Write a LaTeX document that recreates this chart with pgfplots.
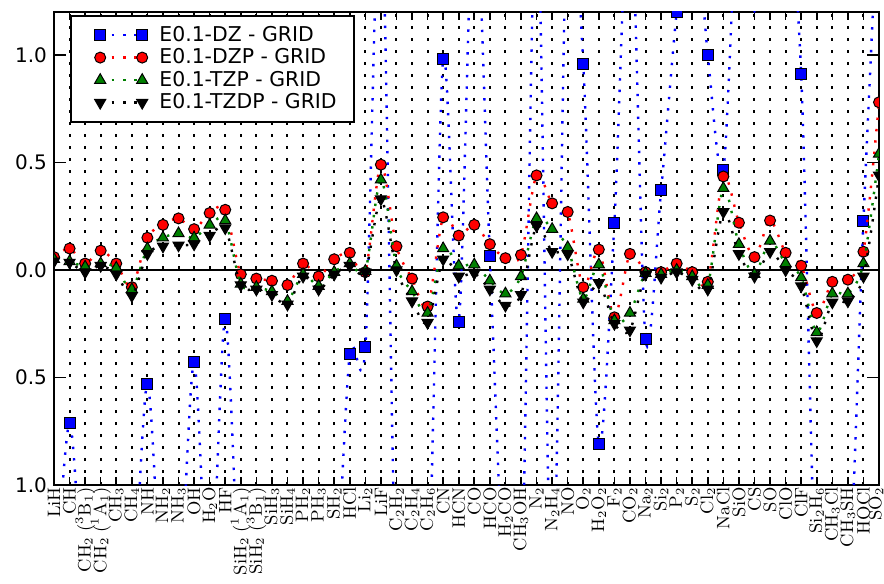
\documentclass[border=0pt]{standalone}
\usepackage{pgfplots}
\usepackage{pgfplotstable}
\pgfplotsset{compat=1.18}
\usepackage{fontspec}
\newfontfamily\djv{DejaVu Sans}
\definecolor{mgreen}{RGB}{0,128,0}

\pgfplotstableread{
x B R G K
0 -1.6 0.06 0.05 0.04
1 -0.71 0.10 0.04 0.035
2 -1.6 0.03 0.015 -0.01
3 -1.6 0.09 0.03 0.02
4 -1.6 0.03 0.01 -0.02
5 -1.6 -0.08 -0.09 -0.12
6 -0.53 0.15 0.10 0.075
7 -1.6 0.21 0.15 0.11
8 -1.6 0.24 0.17 0.115
9 -0.43 0.19 0.15 0.12
10 -1.6 0.265 0.21 0.16
11 -0.23 0.28 0.23 0.195
12 -1.6 -0.02 -0.065 -0.07
13 -1.6 -0.04 -0.08 -0.09
14 -1.6 -0.05 -0.10 -0.115
15 -1.6 -0.07 -0.145 -0.16
16 -1.6 0.03 -0.02 -0.03
17 -1.6 -0.03 -0.075 -0.09
18 -1.6 0.05 -0.01 -0.02
19 -0.39 0.08 0.03 0.02
20 -0.36 -0.01 -0.005 -0.01
21 1.8 0.49 0.42 0.33
22 -1.6 0.11 0.02 0.0
23 -1.6 -0.04 -0.10 -0.145
24 -1.6 -0.17 -0.20 -0.245
25 0.98 0.245 0.10 0.05
26 -0.24 0.16 0.02 -0.03
27 1.8 0.21 0.025 -0.015
28 0.065 0.12 -0.05 -0.09
29 -1.6 0.055 -0.11 -0.165
30 -1.6 0.07 -0.03 -0.115
31 1.8 0.44 0.24 0.205
32 -1.6 0.31 0.19 0.085
33 1.8 0.27 0.105 0.074
34 0.96 -0.08 -0.135 -0.15
35 -0.81 0.095 0.025 -0.06
36 0.22 -0.22 -0.235 -0.25
37 1.8 0.075 -0.20 -0.28
38 -0.32 -0.01 -0.015 -0.02
39 0.37 -0.01 -0.02 -0.035
40 1.2 0.03 0.0 -0.01
41 1.8 -0.01 -0.03 -0.045
42 1.0 -0.055 -0.07 -0.09
43 0.465 0.435 0.38 0.27
44 1.8 0.22 0.12 0.075
45 1.205 0.06 -0.02 -0.03
46 1.8 0.23 0.135 0.085
47 1.8 0.08 0.03 0.0
48 0.91 0.02 -0.035 -0.075
49 -1.6 -0.20 -0.29 -0.33
50 -1.6 -0.055 -0.11 -0.15
51 -1.6 -0.045 -0.11 -0.145
52 0.23 0.085 0.03 -0.03
53 1.8 0.78 0.54 0.44
}\datatable

\tikzset{
  ser/.style={smooth, line width=1.2pt, dash pattern=on 1.2pt off 4.5pt},
  mk/.style={solid, draw=black, line width=0.5pt, fill=#1},
}

\begin{document}
\begin{tikzpicture}
\begin{axis}[
  scale only axis, width=412.5pt, height=236.5pt,
  xmin=0, xmax=53, ymin=-1, ymax=1.2,
  xtick={0,...,53},
  xticklabels={$\mathrm{LiH}$,$\mathrm{CH}$,$\mathrm{CH_2\;(^3B_1)}$,$\mathrm{CH_2\;(^1A_1)}$,$\mathrm{CH_3}$,$\mathrm{CH_4}$,$\mathrm{NH}$,$\mathrm{NH_2}$,$\mathrm{NH_3}$,$\mathrm{OH}$,$\mathrm{H_2O}$,$\mathrm{HF}$,$\mathrm{SiH_2\;(^1A_1)}$,$\mathrm{SiH_2\;(^3B_1)}$,$\mathrm{SiH_3}$,$\mathrm{SiH_4}$,$\mathrm{PH_2}$,$\mathrm{PH_3}$,$\mathrm{SH_2}$,$\mathrm{HCl}$,$\mathrm{Li_2}$,$\mathrm{LiF}$,$\mathrm{C_2H_2}$,$\mathrm{C_2H_4}$,$\mathrm{C_2H_6}$,$\mathrm{CN}$,$\mathrm{HCN}$,$\mathrm{CO}$,$\mathrm{HCO}$,$\mathrm{H_2CO}$,$\mathrm{CH_3OH}$,$\mathrm{N_2}$,$\mathrm{N_2H_4}$,$\mathrm{NO}$,$\mathrm{O_2}$,$\mathrm{H_2O_2}$,$\mathrm{F_2}$,$\mathrm{CO_2}$,$\mathrm{Na_2}$,$\mathrm{Si_2}$,$\mathrm{P_2}$,$\mathrm{S_2}$,$\mathrm{Cl_2}$,$\mathrm{NaCl}$,$\mathrm{SiO}$,$\mathrm{CS}$,$\mathrm{SO}$,$\mathrm{ClO}$,$\mathrm{ClF}$,$\mathrm{Si_2H_6}$,$\mathrm{CH_3Cl}$,$\mathrm{CH_3SH}$,$\mathrm{HOCl}$,\raisebox{4pt}{$\mathrm{SO_2}$}},
  xticklabel style={rotate=90, anchor=east, font=\fontsize{9}{10}\selectfont, inner sep=1pt},
  ytick={-1,-0.5,0,0.5,1},
  yticklabels={1.0,0.5,0.0,0.5,1.0},
  yticklabel style={font=\djv\fontsize{10}{12}\selectfont},
  xmajorgrids,
  grid style={black, line width=1pt, dash pattern=on 1.5pt off 4.5pt},
  axis line style={line width=1.2pt},
  tick style={black, line width=0.8pt},
  major tick length=6pt,
  xtick style={/pgfplots/major tick length=4pt},
  clip marker paths=true,
  legend cell align=left,
  legend style={at={(0.0194,0.9937)}, anchor=north west, draw=black, line width=1pt,
    font=\djv\fontsize{10.2}{12}\selectfont, row sep=-1.8pt, inner xsep=6.5pt, inner ysep=3pt},
  legend image code/.code={\path (0pt,0pt) (34.5pt,0pt); \draw[mark repeat=1,mark phase=1,#1] plot coordinates {(7.5pt,0pt) (28.5pt,0pt)};},
]
\addplot[black, line width=1pt, forget plot] coordinates {(0,0) (53,0)};
\addplot[ser, blue, mark=square*, mark size=2.75pt, mark options={mk=blue}] table[x=x,y=B]{\datatable};
\addlegendentry{E0.1-DZ - GRID}
\addplot[ser, red, mark=*, mark size=2.75pt, mark options={mk=red}] table[x=x,y=R]{\datatable};
\addlegendentry{E0.1-DZP - GRID}
\addplot[ser, mgreen, mark=triangle*, mark size=3.2pt, mark options={mk=mgreen}] table[x=x,y=G]{\datatable};
\addlegendentry{E0.1-TZP - GRID}
\addplot[ser, black, mark=triangle*, mark size=3.2pt, mark options={mk=black, rotate=180}] table[x=x,y=K]{\datatable};
\addlegendentry{E0.1-TZDP - GRID}
\end{axis}
\pgfresetboundingbox
\path[use as bounding box] ([xshift=-27pt,yshift=-49pt]current axis.south west) rectangle ([xshift=2.5pt,yshift=6pt]current axis.north east);
\end{tikzpicture}
\end{document}
